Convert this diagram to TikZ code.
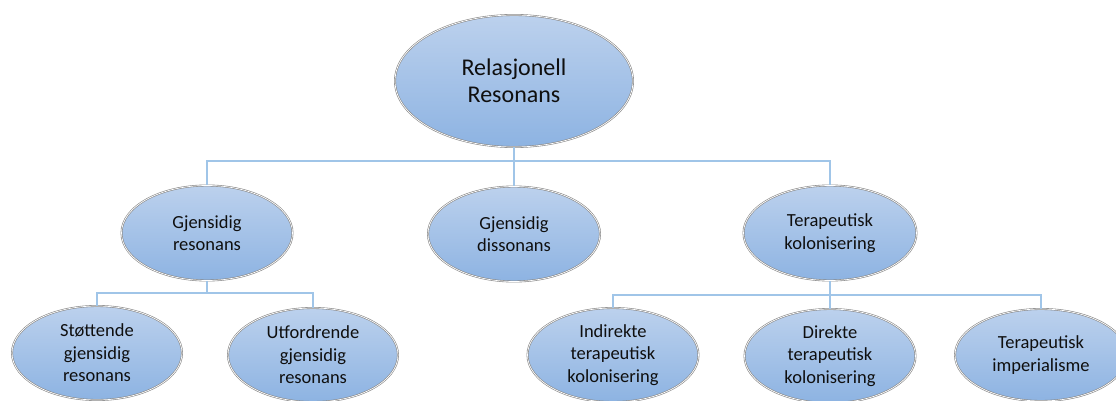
\documentclass[tikz,border=0pt]{standalone}
\usepackage{fontspec}
\setmainfont{Carlito}
\usetikzlibrary{shapes.geometric}
\definecolor{ftop}{RGB}{188,209,237}
\definecolor{fbot}{RGB}{141,179,226}
\definecolor{edge}{RGB}{135,135,135}
\definecolor{conncol}{RGB}{160,197,232}
\definecolor{txt}{RGB}{15,15,15}
\tikzset{
  oval/.style={ellipse, inner sep=0pt, top color=ftop, bottom color=fbot,
    draw=edge, line width=0.6pt, double=white, double distance=0.7pt,
    text=txt, align=center, font=\fontsize{18.5}{22.5}\selectfont},
  conn/.style={draw=conncol, line width=1.2pt},
}
\begin{document}
\begin{tikzpicture}[x=1pt,y=-1pt]
\useasboundingbox (0,0) rectangle (1116,401);
\clip (0,0) rectangle (1116,401);
\coordinate (b1) at (514,161);
\coordinate (b2) at (207,293);
\coordinate (b3) at (830,295);
% nodes
\node[oval, minimum width=238pt, minimum height=132pt, font=\fontsize{24}{27}\selectfont] (root) at (514,81) {Relasjonell\\Resonans};
\node[oval, minimum width=171pt, minimum height=95pt] (gr) at (207,233) {Gjensidig\\resonans};
\node[oval, minimum width=172pt, minimum height=95pt] (gd) at (514,234) {Gjensidig\\dissonans};
\node[oval, minimum width=173pt, minimum height=95pt] (tk) at (830,233) {Terapeutisk\\kolonisering};
\node[oval, minimum width=170pt, minimum height=94pt] (sg) at (97,353) {Støttende\\gjensidig\\resonans};
\node[oval, minimum width=170pt, minimum height=94pt] (ug) at (313,355) {Utfordrende\\gjensidig\\resonans};
\node[oval, minimum width=171pt, minimum height=94pt] (it) at (613,355) {Indirekte\\terapeutisk\\kolonisering};
\node[oval, minimum width=171pt, minimum height=94pt] (dt) at (830,356) {Direkte\\terapeutisk\\kolonisering};
\node[oval, minimum width=172pt, minimum height=92pt] (ti) at (1041,355) {Terapeutisk\\imperialisme};
% connectors
\draw[conn] (root.south) -- (gd.north);
\draw[conn] (gr.north) -- (gr.north |- b1) -- (tk.north |- b1) -- (tk.north);
\draw[conn] (gr.south) -- (b2);
\draw[conn] (sg.north) -- (sg.north |- b2) -- (ug.north |- b2) -- (ug.north);
\draw[conn] (tk.south) -- (dt.north);
\draw[conn] (it.north) -- (it.north |- b3) -- (ti.north |- b3) -- (ti.north);
\end{tikzpicture}
\end{document}
